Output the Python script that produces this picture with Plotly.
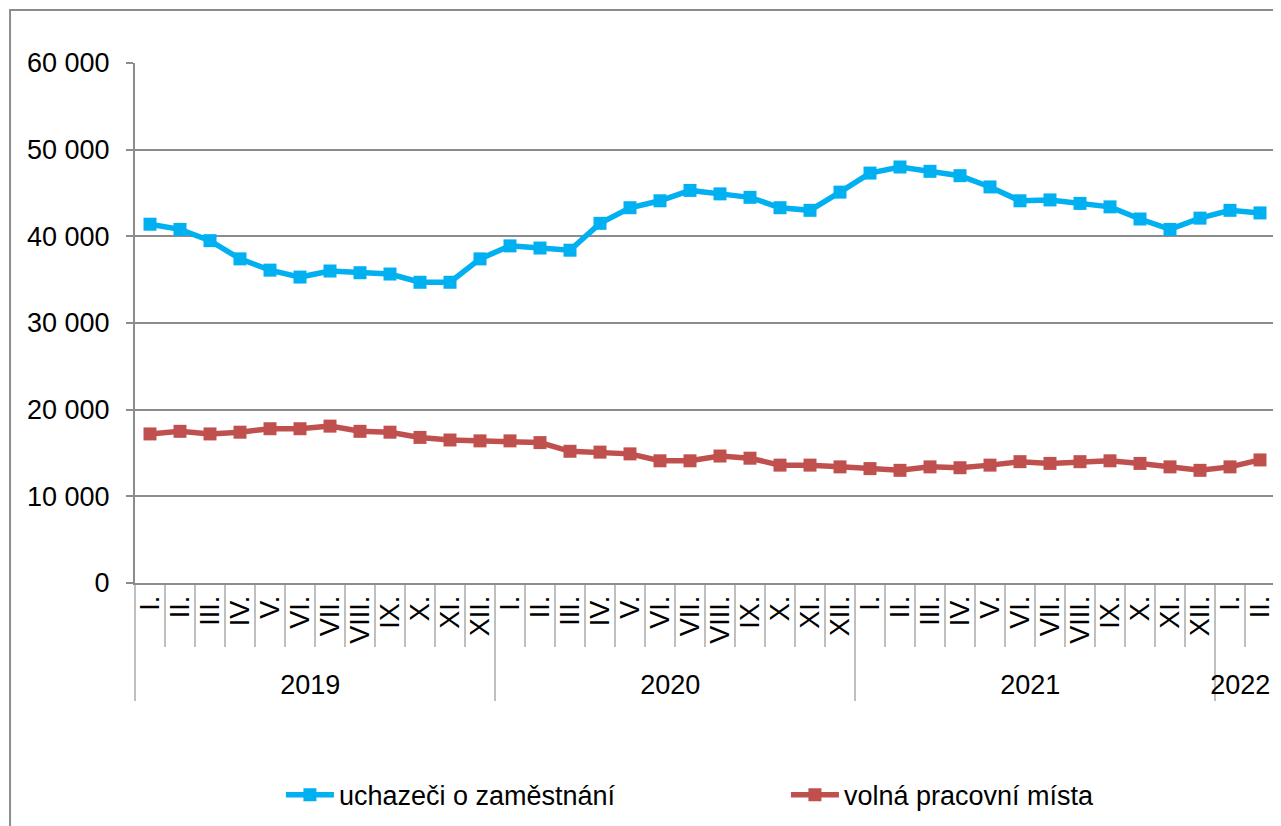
import plotly.graph_objects as go

years = ["2019"] * 12 + ["2020"] * 12 + ["2021"] * 12 + ["2022"] * 2
months_roman = ["I.", "II.", "III.", "IV.", "V.", "VI.", "VII.", "VIII.", "IX.", "X.", "XI.", "XII."]
months = months_roman * 3 + ["I.", "II."]

uchazeci = [41400, 40800, 39500, 37400, 36100, 35300, 36000, 35800, 35650, 34700, 34700, 37400,
            38900, 38650, 38400, 41500, 43300, 44100, 45300, 44900, 44500, 43300, 43000, 45100,
            47300, 48000, 47500, 47000, 45700, 44100, 44200, 43800, 43400, 42000, 40800, 42100,
            43000, 42700]
volna = [17200, 17500, 17200, 17400, 17800, 17800, 18100, 17500, 17400, 16800, 16500, 16400,
         16400, 16200, 15200, 15100, 14900, 14100, 14100, 14650, 14400, 13600, 13600, 13400,
         13200, 13000, 13400, 13300, 13600, 14000, 13800, 14000, 14100, 13800, 13400, 13000,
         13400, 14200]

y_tickvals = [0, 10000, 20000, 30000, 40000, 50000, 60000]
y_ticktext = ["0", "10 000", "20 000", "30 000", "40 000", "50 000", "60 000"]

series_names = ["uchazeči o zaměstnání", "volná pracovní místa"]
colors = ["#00B0F0", "#C0504D"]

FONT = "Liberation Sans, Arial, sans-serif"
GRAY = "#8C8C8C"

fig = go.Figure()
for name, vals, col in zip(series_names, [uchazeci, volna], colors):
    fig.add_trace(go.Scatter(
        x=[years, months], y=vals, name=name, mode="lines+markers",
        line=dict(color=col, width=5.5),
        marker=dict(symbol="square", size=13, color=col),
    ))

fig.update_layout(
    width=1273, height=818,
    margin=dict(l=127, r=6, t=55, b=243, autoexpand=False),
    paper_bgcolor="white", plot_bgcolor="white",
    font=dict(family=FONT, size=27, color="black"),
    showlegend=True,
    legend=dict(orientation="h", x=0.128, y=-0.408, xanchor="left", yanchor="middle",
                entrywidth=442, entrywidthmode="pixels",
                font=dict(size=27, family=FONT), itemwidth=48),
    shapes=[dict(type="rect", xref="paper", yref="paper",
                 x0=-0.1096, x1=1.02, y0=-0.5, y1=1.102,
                 line=dict(color=GRAY, width=2), fillcolor="rgba(0,0,0,0)", layer="below")],
)
fig.update_yaxes(range=[0, 60000], tickvals=y_tickvals, ticktext=y_ticktext,
                 showgrid=True, gridcolor=GRAY, gridwidth=2,
                 showline=True, linecolor=GRAY, linewidth=2,
                 ticks="outside", ticklen=7, tickcolor=GRAY, tickwidth=2,
                 ticklabelstandoff=11, zeroline=False, automargin=False,
                 tickfont=dict(size=27, family=FONT))
fig.update_xaxes(type="multicategory", range=[-0.5, 37.5], tickangle=-90, tickson="boundaries",
                 tickmode="linear", tick0=0, dtick=1,
                 ticks="outside", ticklen=62, tickcolor="#BFBFBF", tickwidth=2,
                 ticklabelstandoff=0, automargin=False,
                 showdividers=True, dividercolor="#BFBFBF", dividerwidth=2,
                 showgrid=False, showline=True, linecolor=GRAY, linewidth=2,
                 tickfont=dict(size=27, family=FONT))

fig.write_html("out.html")
